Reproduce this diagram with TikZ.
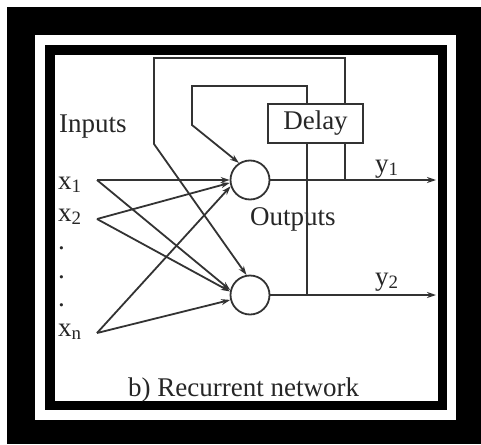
\documentclass[tikz,border=0pt]{standalone}
\usepackage{fontspec}
\setmainfont{Liberation Serif}
\usetikzlibrary{arrows.meta, positioning, calc}
\tikzset{
  neuron/.style={circle, draw=black!80, line width=1.8pt,
                 minimum size=39pt, inner sep=0pt},
  delaybox/.style={rectangle, draw=black!80, line width=1.8pt,
                   minimum width=95pt, minimum height=39pt, inner sep=0pt,
                   text=black!85, font=\fontsize{27}{30}\selectfont},
  lbl/.style={anchor=base west, inner sep=0pt, text=black!85,
              font=\fontsize{27}{30}\selectfont},
  wire/.style={draw=black!80, line width=1.8pt},
  sig/.style={wire, -{Stealth[length=9pt,width=6pt]}},
}

\begin{document}
\begin{tikzpicture}[x=1pt, y=-1pt]
    \useasboundingbox (0,0) rectangle (481,444);
    %% frame
    \fill[black] (7,7) rectangle (481,444);
    \fill[white] (35,35) rectangle (456,420);
    \fill[black] (45,45) rectangle (447,410);
    \fill[white] (55,55) rectangle (438,401);
    %% neurons and delay
    \node[neuron] (top) at (250,180) {};
    \node[neuron] (bot) at (250,295) {};
    \node[delaybox] (delay) at (315.5,123.5) {Delay};
    %% labels
    \node[lbl] (inputs) at (59,132) {Inputs};
    \node[lbl] (x1) at (58,189) {x\textsubscript{1}};
    \node[lbl] (x2) at (58,221) {x\textsubscript{2}};
    \node[lbl] (d1) at (58,249) {.};
    \node[lbl] (d2) at (58,278) {.};
    \node[lbl] (d3) at (58,306) {.};
    \node[lbl] (xn) at (58,336) {x\textsubscript{n}};
    \node[lbl] (outputs) at (250,225) {Outputs};
    \node[lbl] (y1) at (375,172) {y\textsubscript{1}};
    \node[lbl] (y2) at (375,285) {y\textsubscript{2}};
    \node[lbl] (caption) at (128,396) {b) Recurrent network};
    %% wire ends
    \coordinate (in1) at (97,180);
    \coordinate (in2) at (97,219);
    \coordinate (inn) at (97,333);
    \coordinate (out1) at (436,180);
    \coordinate (out2) at (436,295);
    \coordinate (j1) at (345,180);
    \coordinate (j2) at (307,295);
    %% inputs
    \draw[sig] (in1) -- (top.180);
    \draw[sig] (in1) -- (bot.166);
    \draw[sig] (in2) -- (top.188);
    \draw[sig] (in2) -- (bot.170);
    \draw[sig] (inn) -- (top.198);
    \draw[sig] (inn) -- (bot.194);
    %% outputs
    \draw[sig] (top.east) -- (out1);
    \draw[sig] (bot.east) -- (out2);
    %% feedback through delay
    \draw[wire] (j1) -- (delay.south -| j1);
    \draw[sig] (delay.north -| j1) -- (345,58) -- (154,58) -- (154,144)
      -- (bot.100);
    \draw[wire] (j2) -- (delay.south -| j2);
    \draw[sig] (delay.north -| j2) -- (307,86) -- (192,86) -- (192,125)
      -- (top.123);
\end{tikzpicture}
\end{document}
